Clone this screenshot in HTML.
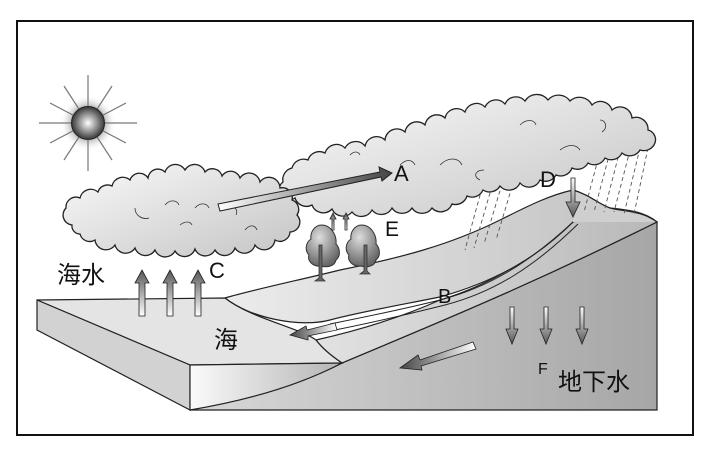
<!DOCTYPE html>
<html><head><meta charset="utf-8"><style>
html,body{margin:0;padding:0;background:#fff;}
svg{display:block;}
text{font-family:"Liberation Sans","Noto Sans CJK SC",sans-serif;fill:#111;}
</style></head><body>
<svg width="707" height="454" viewBox="0 0 707 454" xmlns="http://www.w3.org/2000/svg">
<defs>
<radialGradient id="sun" cx="0.5" cy="0.5" r="0.55"><stop offset="0" stop-color="#fff"/><stop offset="1" stop-color="#222"/></radialGradient>
<radialGradient id="glow" cx="0.5" cy="0.5" r="0.5"><stop offset="0.5" stop-color="#999"/><stop offset="1" stop-color="#fff" stop-opacity="0"/></radialGradient>
<linearGradient id="cl" x1="0" y1="0" x2="1" y2="1"><stop offset="0" stop-color="#fafafa"/><stop offset="1" stop-color="#c4c4c4"/></linearGradient>
<radialGradient id="tr" cx="0.4" cy="0.3" r="0.7"><stop offset="0" stop-color="#ddd"/><stop offset="1" stop-color="#666"/></radialGradient>
<linearGradient id="land" x1="0" y1="0" x2="1" y2="0"><stop offset="0" stop-color="#ececec"/><stop offset="1" stop-color="#c4c4c4"/></linearGradient>
<linearGradient id="mid" x1="0" y1="0" x2="1" y2="0"><stop offset="0" stop-color="#e2e2e2"/><stop offset="1" stop-color="#b8b8b8"/></linearGradient>
<linearGradient id="land2" x1="0" y1="0" x2="1" y2="0"><stop offset="0" stop-color="#d8d8d8"/><stop offset="1" stop-color="#a6a6a6"/></linearGradient>
<linearGradient id="front" x1="0" y1="0" x2="1" y2="0"><stop offset="0" stop-color="#fafafa"/><stop offset="1" stop-color="#b4b4b4"/></linearGradient>
<linearGradient id="up" x1="0" y1="1" x2="0" y2="0"><stop offset="0" stop-color="#fff"/><stop offset="1" stop-color="#555"/></linearGradient>
<linearGradient id="dn" x1="0" y1="0" x2="0" y2="1"><stop offset="0" stop-color="#fff"/><stop offset="1" stop-color="#555"/></linearGradient>
<linearGradient id="ra" x1="0" y1="0" x2="1" y2="0"><stop offset="0" stop-color="#fff"/><stop offset="1" stop-color="#444"/></linearGradient>
<linearGradient id="la" x1="1" y1="0" x2="0" y2="0"><stop offset="0" stop-color="#fff"/><stop offset="1" stop-color="#444"/></linearGradient>
</defs>
<rect x="17" y="21" width="676" height="414" fill="#fff" stroke="#111" stroke-width="2"/>
<!-- sun -->
<circle cx="88" cy="123" r="28" fill="url(#glow)"/>
<g stroke="#777" stroke-width="1.2">
<line x1="88" y1="75" x2="88" y2="171"/><line x1="39" y1="123" x2="137" y2="123"/>
<line x1="64" y1="86" x2="112" y2="160"/><line x1="112" y1="86" x2="64" y2="160"/>
<line x1="50" y1="103" x2="126" y2="143"/><line x1="50" y1="143" x2="126" y2="103"/>
</g>
<circle cx="88" cy="123" r="16.5" fill="url(#sun)" stroke="#222"/>
<!-- land lower/right face -->
<path d="M190,410 C260,395 310,380 342,363 C420,330 520,290 657,222 L657,410 Z" fill="url(#land2)" stroke="#222" stroke-width="1.2"/>
<path d="M316,340 C360,330 400,318 440,300 C490,285 530,260 573,222 L610,208 C630,210 645,212 657,222 C520,290 420,330 342,363 C330,355 322,348 316,340 Z" fill="url(#mid)" stroke="#222" stroke-width="1.2"/>
<path d="M225,298 C260,288 300,280 340,270 C400,258 450,245 500,220 C530,205 550,195 573,190 C590,195 600,205 610,208 L573,222 C540,255 500,280 440,297 C400,305 360,312 330,320 C300,328 250,318 225,298 Z" fill="url(#land)" stroke="#222" stroke-width="1.2"/>
<path d="M573,190 C590,195 600,205 610,208 C625,212 640,210 657,222 L573,222 Z" fill="#cfcfcf" stroke="none"/>
<path d="M573,190 C590,195 600,205 610,208 C625,212 640,210 657,222" fill="none" stroke="#222" stroke-width="1.2"/>
<path d="M330,324 C360,318 400,310 440,300 C490,287 530,262 573,222 M335,330 C365,324 405,315 445,305 C495,292 535,266 578,224" fill="none" stroke="#222" stroke-width="1"/>
<!-- sea block -->
<path d="M37,300 L225,298 C250,318 300,328 316,340 C322,348 330,355 342,363 L190,365 Z" fill="#e4e4e4" stroke="#222" stroke-width="1.2"/>
<path d="M37,300 L190,365 L190,410 L37,330 Z" fill="#d2d2d2" stroke="#222" stroke-width="1.2"/>
<path d="M190,365 L342,363 C300,385 250,400 190,410 Z" fill="url(#front)" stroke="#222" stroke-width="1.2"/>
<!-- rain -->
<g stroke="#555" stroke-width="0.9" stroke-dasharray="4,3">
<line x1="482" y1="188" x2="465" y2="250"/><line x1="492" y1="186" x2="474" y2="248"/><line x1="502" y1="184" x2="484" y2="244"/><line x1="514" y1="180" x2="496" y2="240"/>
<line x1="600" y1="152" x2="584" y2="212"/><line x1="610" y1="152" x2="594" y2="212"/><line x1="620" y1="150" x2="604" y2="212"/><line x1="630" y1="150" x2="614" y2="212"/><line x1="640" y1="148" x2="624" y2="214"/><line x1="648" y1="148" x2="634" y2="214"/>
</g>
<!-- right cloud -->
<path d="M283,182 A12,12 0 0 1 292,168 A12,12 0 0 1 308,160 A12,12 0 0 1 325,153 A12,12 0 0 1 345,148 A12,12 0 0 1 365,146 A12,12 0 0 1 385,140 A12,12 0 0 1 405,132 A12,12 0 0 1 425,125 A12,12 0 0 1 445,118 A12,12 0 0 1 465,112 A12,12 0 0 1 485,107 A12,12 0 0 1 505,104 A12,12 0 0 1 525,101 A14,14 0 0 1 548,100 A14,14 0 0 1 570,101 A14,14 0 0 1 592,105 A12,12 0 0 1 612,110 A12,12 0 0 1 632,118 A12,12 0 0 1 648,130 A10,10 0 0 1 654,145 A12,12 0 0 1 640,150 A12,12 0 0 1 622,153 A12,12 0 0 1 605,158 A12,12 0 0 1 588,163 A12,12 0 0 1 572,168 A12,12 0 0 1 556,175 A12,12 0 0 1 540,180 A12,12 0 0 1 520,183 A12,12 0 0 1 500,186 A12,12 0 0 1 483,190 A12,12 0 0 1 467,196 A12,12 0 0 1 452,204 A12,12 0 0 1 432,208 A12,12 0 0 1 412,208 A12,12 0 0 1 392,208 A12,12 0 0 1 372,210 A12,12 0 0 1 352,212 A12,12 0 0 1 332,209 A12,12 0 0 1 312,205 A12,12 0 0 1 295,198 A10,10 0 0 1 283,182 Z" fill="url(#cl)" stroke="#222" stroke-width="1.3"/>
<!-- left cloud -->
<path d="M72,225 A10,10 0 0 1 66,208 A10,10 0 0 1 80,198 A11,11 0 0 1 98,192 A10,10 0 0 1 112,186 A11,11 0 0 1 130,180 A10,10 0 0 1 148,178 A10,10 0 0 1 165,172 A11,11 0 0 1 185,170 A11,11 0 0 1 205,172 A10,10 0 0 1 222,176 A10,10 0 0 1 240,178 A11,11 0 0 1 260,182 A11,11 0 0 1 280,188 A10,10 0 0 1 292,200 A10,10 0 0 1 297,215 A10,10 0 0 1 290,232 A10,10 0 0 1 275,240 A11,11 0 0 1 255,245 A11,11 0 0 1 235,248 A11,11 0 0 1 215,250 A11,11 0 0 1 195,249 A11,11 0 0 1 175,251 A11,11 0 0 1 155,250 A11,11 0 0 1 135,248 A11,11 0 0 1 115,245 A11,11 0 0 1 95,240 A10,10 0 0 1 80,234 A8,8 0 0 1 72,225 Z" fill="url(#cl)" stroke="#222" stroke-width="1.3"/>
<g fill="none" stroke="#333" stroke-width="0.8">
<path d="M165,205 c5,-6 12,-5 14,0 M195,208 c5,-6 12,-5 14,0 M135,208 c0,8 8,12 14,10 M180,225 c5,-4 10,-4 12,0 M245,230 c5,-6 10,-5 12,0 M230,205 c6,2 8,6 6,10"/>
<path d="M350,155 c4,-4 8,-4 10,0 M400,165 c6,-6 12,-6 15,0 M440,165 c8,-8 18,-8 22,0 M520,125 c6,-6 14,-6 16,0 M560,150 c8,-6 16,-6 20,0 M600,120 c6,0 8,8 2,12 M480,180 c-8,-4 -4,-10 4,-10"/>
</g>
<!-- trees -->
<g fill="url(#tr)" stroke="#333" stroke-width="1">
<path d="M322,225 c-8,0 -12,8 -11,14 c-6,4 -6,12 -2,16 c-2,6 4,12 12,11 c6,2 14,0 15,-6 c5,-4 4,-12 0,-16 c1,-10 -6,-19 -14,-19 z"/>
<path d="M362,225 c-8,0 -12,8 -11,14 c-6,4 -6,12 -2,16 c-2,6 4,12 12,11 c6,2 14,0 15,-6 c5,-4 4,-12 0,-16 c1,-10 -6,-19 -14,-19 z"/>
</g>
<g fill="#666" stroke="#333" stroke-width="0.8"><path d="M321,245 l-2,0 l0,33 l-4,3 l10,0 l-3,-3 l0,-33 z"/><path d="M366,245 l-2,0 l0,26 l-4,3 l10,0 l-3,-3 l0,-26 z"/></g>
<!-- arrows -->
<path d="M218,204 L380,172 L379,167 L392,173 L382,181 L381,177 L220,211 Z" fill="url(#ra)" stroke="#222"/>
<g stroke="#222" stroke-width="0.8">
<path d="M139,316 v-33 h-4 l7,-13 l7,13 h-4 v33 z" fill="url(#up)"/>
<path d="M167,316 v-33 h-4 l7,-13 l7,13 h-4 v33 z" fill="url(#up)"/>
<path d="M195,316 v-33 h-4 l7,-13 l7,13 h-4 v33 z" fill="url(#up)"/>
<path d="M332,230 v-11 h-2 l3,-6 l3,6 h-2 v11 z" fill="url(#up)"/>
<path d="M345,230 v-11 h-2 l3,-6 l3,6 h-2 v11 z" fill="url(#up)"/>
<path d="M571,178 v24 h-5 l7,15 l7,-15 h-5 v-24 z" fill="url(#dn)"/>
<path d="M510,307 v22 h-4 l6,15 l6,-15 h-4 v-22 z" fill="url(#dn)"/>
<path d="M544,307 v22 h-4 l6,15 l6,-15 h-4 v-22 z" fill="url(#dn)"/>
<path d="M580,307 v22 h-4 l6,15 l6,-15 h-4 v-22 z" fill="url(#dn)"/>
<path d="M473,342 L420,360 L418,355 L400,368 L422,370 L421,366 L476,349 Z" fill="url(#la)"/>
<path d="M335,323 L307,330 L306,326 L290,335 L308,340 L308,336 L337,330 Z" fill="url(#la)"/>
</g>
<!-- labels -->
<text x="394" y="181" font-size="22">A</text>
<text x="438" y="303" font-size="20">B</text>
<text x="209" y="278" font-size="22">C</text>
<text x="540" y="187" font-size="22">D</text>
<text x="385" y="236" font-size="21">E</text>
<text x="538" y="374" font-size="16">F</text>
<text x="558" y="390" font-size="24">地下水</text>
<text x="57" y="283" font-size="24">海水</text>
<text x="214" y="348" font-size="24">海</text>
</svg>
</body></html>
